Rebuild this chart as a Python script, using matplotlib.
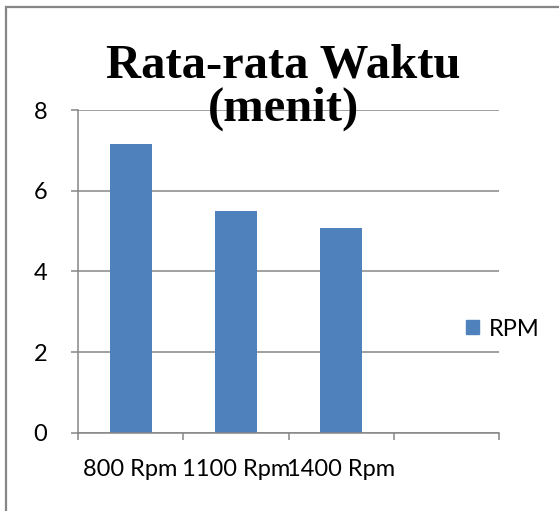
import matplotlib
matplotlib.use("Agg")
import matplotlib.pyplot as plt
from matplotlib.lines import Line2D
from matplotlib.patches import Patch
from matplotlib.transforms import IdentityTransform

# data
categories = ["800 Rpm", "1100 Rpm", "1400 Rpm"]
waktu = [7.15, 5.50, 5.07]
n_slots = 4  # excel left an empty fourth category
series_name = "RPM"
title = "Rata-rata Waktu\n(menit)"

BAR = "#4F81BD"
GRAY = "#868686"
SANS = ["Lato", "DejaVu Sans"]

W, H = 559, 511
fig = plt.figure(figsize=(W / 100, H / 100), dpi=100)
ax = fig.add_axes([78 / W, 78.3 / H, (499.3 - 78) / W, (432.7 - 110.2) / H])

xs = list(range(len(categories)))
ax.bar(xs, waktu, width=0.4, color=BAR, zorder=3, label=series_name)

ax.set_xlim(-0.5, n_slots - 0.5)
ax.set_ylim(0, 8)
ax.set_yticks([0, 2, 4, 6, 8])
ax.set_xticks([i - 0.5 for i in range(n_slots + 1)])
ax.set_xticklabels([])
ax.set_xticks(xs, minor=True)
ax.set_xticklabels(categories, minor=True, fontfamily=SANS, fontsize=17)
ax.tick_params(axis="x", which="major", length=5, width=1.1, color=GRAY, direction="out")
ax.tick_params(axis="x", which="minor", length=0, pad=19)
ax.tick_params(axis="y", length=5, width=1.1, color=GRAY, pad=17, labelsize=17)
for t in ax.get_yticklabels():
    t.set_fontfamily(SANS)

ax.grid(axis="y", color=GRAY, linewidth=1.1, zorder=0)
for side in ["top", "right"]:
    ax.spines[side].set_visible(False)
for side in ["left", "bottom"]:
    ax.spines[side].set_color(GRAY)
    ax.spines[side].set_linewidth(1.1)
    ax.spines[side].set_zorder(4)

fig.text(283 / W, 1 - 43 / H, title, ha="center", va="top",
         fontfamily="Liberation Serif", fontweight="bold", fontsize=35, linespacing=1.0)

fig.legend(handles=[Patch(color=BAR, label=series_name)], loc="center left",
           bbox_to_anchor=(445 / W, 1 - 329 / H), frameon=False,
           handlelength=0.55, handleheight=0.55, handletextpad=0.4,
           prop={"family": SANS, "size": 17})

# chart frame: only its top and left edges fall inside the picture (pixel coords)
frame = Line2D([W + 5, 6, 6], [H - 6.5, H - 6.5, -5], transform=IdentityTransform(),
               color=GRAY, linewidth=1.6, solid_joinstyle="miter")
fig.lines.append(frame)

fig.savefig("out.png", dpi=100)
